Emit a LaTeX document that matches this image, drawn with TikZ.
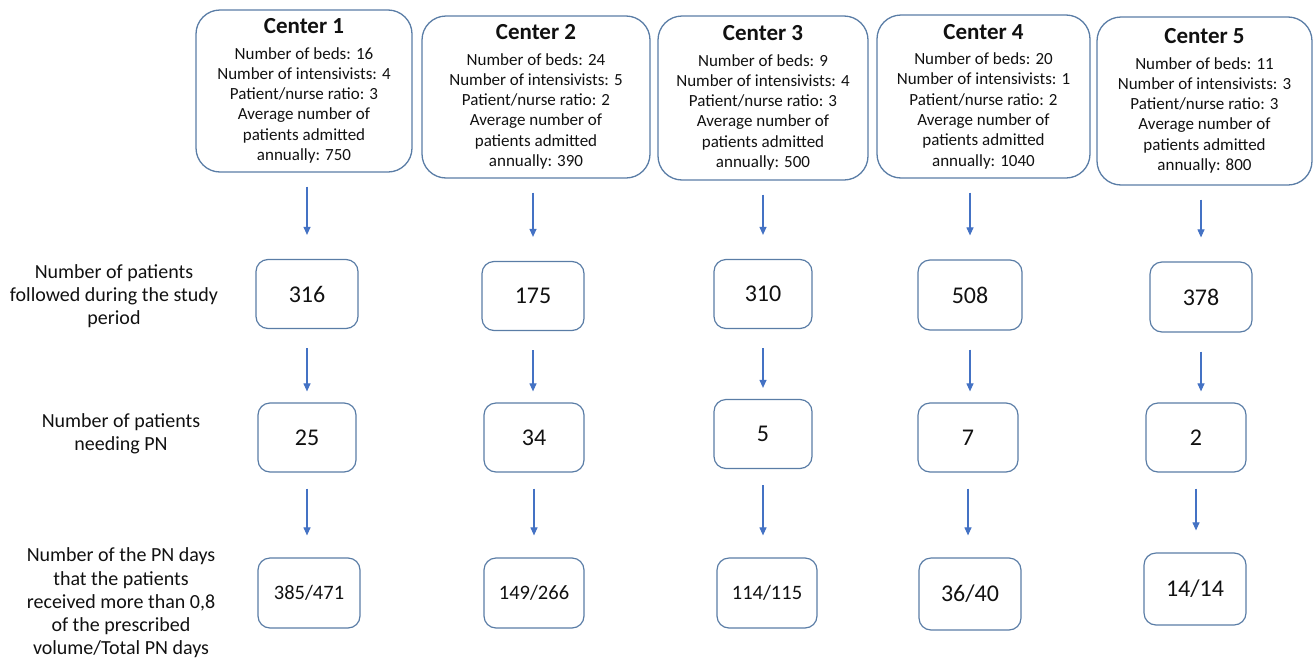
\documentclass[tikz,border=0pt]{standalone}
\usepackage{fontspec}
\setmainfont{Carlito}
\usetikzlibrary{arrows.meta}
\definecolor{boxc}{HTML}{5A7DA6}
\definecolor{arrc}{HTML}{4472C4}
\definecolor{txt}{HTML}{111111}
\newcommand{\ctitle}[1]{{\fontsize{23}{27}\selectfont\bfseries #1}\\[5pt]}
\begin{document}
\begin{tikzpicture}[x=1pt,y=-1pt,text=txt,
 bigbox/.style={draw=boxc,line width=1.3pt,rounded corners=24pt,align=center,inner sep=0pt,font=\fontsize{17}{20.3}\selectfont},
 numbox/.style={draw=boxc,line width=1.2pt,rounded corners=12pt,align=center,inner sep=0pt,minimum width=100pt,minimum height=69pt,font=\fontsize{24}{28}\selectfont},
 fracbox/.style={numbox,font=\fontsize{20.5}{24}\selectfont},
 lbl/.style={align=center,font=\fontsize{20}{23.3}\selectfont},
 arr/.style={draw=arrc,line width=1.1pt,-{Triangle[width=7pt,length=8pt]}}]
\useasboundingbox (0,0) rectangle (1314,659);
% top boxes
\node[bigbox,minimum width=216pt,minimum height=162pt] (c1) at (304,91) {\ctitle{Center 1}Number of beds: 16\\Number of intensivists: 4\\Patient/nurse ratio: 3\\Average number of\\patients admitted\\annually: 750};
\node[bigbox,minimum width=228pt,minimum height=162pt] (c2) at (536,97) {\ctitle{Center 2}Number of beds: 24\\Number of intensivists: 5\\Patient/nurse ratio: 2\\Average number of\\patients admitted\\annually: 390};
\node[bigbox,minimum width=210pt,minimum height=164pt] (c3) at (763,98) {\ctitle{Center 3}Number of beds: 9\\Number of intensivists: 4\\Patient/nurse ratio: 3\\Average number of\\patients admitted\\annually: 500};
\node[bigbox,minimum width=213pt,minimum height=163pt] (c4) at (983.5,96.5) {\ctitle{Center 4}Number of beds: 20\\Number of intensivists: 1\\Patient/nurse ratio: 2\\Average number of\\patients admitted\\annually: 1040};
\node[bigbox,minimum width=215pt,minimum height=168pt] (c5) at (1204.5,101) {\ctitle{Center 5}Number of beds: 11\\Number of intensivists: 3\\Patient/nurse ratio: 3\\Average number of\\patients admitted\\annually: 800};
% row labels
\node[lbl] (l1) at (114,296) {Number of patients\\followed during the study\\period};
\node[lbl] (l2) at (121,434) {Number of patients\\needing PN};
\node[lbl] (l3) at (121,603) {Number of the PN days\\that the patients\\received more than 0,8\\of the prescribed\\volume/Total PN days};
% row 1
\node[numbox,minimum width=102pt] (n1) at (307,294) {316};
\node[numbox,minimum width=102pt] (n2) at (533,296) {175};
\node[numbox,minimum width=98pt] (n3) at (763,294) {310};
\node[numbox,minimum width=104pt,minimum height=70pt] (n4) at (970,295) {508};
\node[numbox,minimum width=102pt,minimum height=70pt] (n5) at (1201,297) {378};
% row 2
\node[numbox,minimum width=98pt] (m1) at (307,437.5) {25};
\node[numbox] (m2) at (534,437.5) {34};
\node[numbox,minimum width=98pt] (m3) at (763,434) {5};
\node[numbox] (m4) at (968,437.5) {7};
\node[numbox] (m5) at (1196,437.5) {2};
% row 3
\node[fracbox,minimum width=102pt,minimum height=70pt] (f1) at (309,593) {385/471};
\node[fracbox,minimum height=70pt] (f2) at (534,593) {149/266};
\node[fracbox,minimum height=70pt] (f3) at (767,593) {114/115};
\node[numbox,minimum width=102pt,minimum height=72pt] (f4) at (970,594) {36/40};
\node[numbox,minimum width=102pt,minimum height=72pt] (f5) at (1195,589) {14/14};
% arrows
\foreach \c/\n in {c1/n1,c2/n2,c3/n3,c4/n4,c5/n5}
  \draw[arr,shorten <=14pt,shorten >=24pt] (\n |- \c.south) -- (\n.north);
\foreach \n/\m in {n1/m1,n2/m2,n3/m3,n4/m4,n5/m5}
  \draw[arr,shorten <=19pt,shorten >=11pt] (\n.south) -- (\n.south |- \m.north);
\foreach \m/\f in {m1/f1,m2/f2,m3/f3,m4/f4,m5/f5}
  \draw[arr,shorten <=16pt,shorten >=22pt] (\m.south) -- (\m.south |- \f.north);
\end{tikzpicture}
\end{document}
